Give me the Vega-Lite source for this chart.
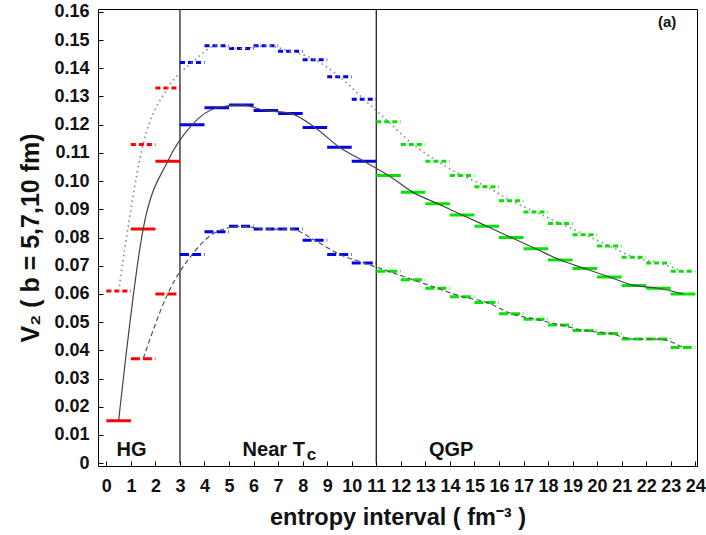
{
  "$schema": "https://vega.github.io/schema/vega-lite/v6.json",
  "width": 599,
  "height": 457,
  "autosize": {"type": "none"},
  "padding": {"left": 98, "top": 9, "right": 9, "bottom": 69},
  "config": {
    "font": "Liberation Sans",
    "view": {"stroke": "#000", "strokeWidth": 1},
    "axis": {
      "domain": false,
      "grid": false,
      "tickColor": "#000",
      "tickSize": -5,
      "labelFont": "Liberation Sans",
      "labelFontWeight": "bold",
      "labelFontSize": 18,
      "labelColor": "#111",
      "labelOverlap": false,
      "labelFlush": false,
      "titleFont": "Liberation Sans",
      "titleFontWeight": "bold",
      "titleColor": "#111"
    },
    "axisX": {"tickCount": 25, "labelPadding": 16, "titlePadding": 10, "titleFontSize": 23.5},
    "axisY": {
      "tickCount": 16,
      "labelPadding": 14,
      "titlePadding": 10,
      "titleFontSize": 25,
      "labelExpr": "datum.value == 0 ? '0' : format(datum.value, '.2f')"
    }
  },
  "datasets": {
    "v2": [
      {"b": "10", "lo": 0, "hi": 1, "ph": "HG", "v2": 0.061},
      {"b": "10", "lo": 1, "hi": 2, "ph": "HG", "v2": 0.113},
      {"b": "10", "lo": 2, "hi": 3, "ph": "HG", "v2": 0.133},
      {"b": "10", "lo": 3, "hi": 4, "ph": "Near Tc", "v2": 0.142},
      {"b": "10", "lo": 4, "hi": 5, "ph": "Near Tc", "v2": 0.148},
      {"b": "10", "lo": 5, "hi": 6, "ph": "Near Tc", "v2": 0.147},
      {"b": "10", "lo": 6, "hi": 7, "ph": "Near Tc", "v2": 0.148},
      {"b": "10", "lo": 7, "hi": 8, "ph": "Near Tc", "v2": 0.146},
      {"b": "10", "lo": 8, "hi": 9, "ph": "Near Tc", "v2": 0.143},
      {"b": "10", "lo": 9, "hi": 10, "ph": "Near Tc", "v2": 0.137},
      {"b": "10", "lo": 10, "hi": 11, "ph": "Near Tc", "v2": 0.129},
      {"b": "10", "lo": 11, "hi": 12, "ph": "QGP", "v2": 0.121},
      {"b": "10", "lo": 12, "hi": 13, "ph": "QGP", "v2": 0.113},
      {"b": "10", "lo": 13, "hi": 14, "ph": "QGP", "v2": 0.107},
      {"b": "10", "lo": 14, "hi": 15, "ph": "QGP", "v2": 0.102},
      {"b": "10", "lo": 15, "hi": 16, "ph": "QGP", "v2": 0.098},
      {"b": "10", "lo": 16, "hi": 17, "ph": "QGP", "v2": 0.093},
      {"b": "10", "lo": 17, "hi": 18, "ph": "QGP", "v2": 0.089},
      {"b": "10", "lo": 18, "hi": 19, "ph": "QGP", "v2": 0.085},
      {"b": "10", "lo": 19, "hi": 20, "ph": "QGP", "v2": 0.081},
      {"b": "10", "lo": 20, "hi": 21, "ph": "QGP", "v2": 0.077},
      {"b": "10", "lo": 21, "hi": 22, "ph": "QGP", "v2": 0.073},
      {"b": "10", "lo": 22, "hi": 23, "ph": "QGP", "v2": 0.071},
      {"b": "10", "lo": 23, "hi": 24, "ph": "QGP", "v2": 0.068},

      {"b": "7", "lo": 0, "hi": 1, "ph": "HG", "v2": 0.015},
      {"b": "7", "lo": 1, "hi": 2, "ph": "HG", "v2": 0.083},
      {"b": "7", "lo": 2, "hi": 3, "ph": "HG", "v2": 0.107},
      {"b": "7", "lo": 3, "hi": 4, "ph": "Near Tc", "v2": 0.120},
      {"b": "7", "lo": 4, "hi": 5, "ph": "Near Tc", "v2": 0.126},
      {"b": "7", "lo": 5, "hi": 6, "ph": "Near Tc", "v2": 0.127},
      {"b": "7", "lo": 6, "hi": 7, "ph": "Near Tc", "v2": 0.125},
      {"b": "7", "lo": 7, "hi": 8, "ph": "Near Tc", "v2": 0.124},
      {"b": "7", "lo": 8, "hi": 9, "ph": "Near Tc", "v2": 0.119},
      {"b": "7", "lo": 9, "hi": 10, "ph": "Near Tc", "v2": 0.112},
      {"b": "7", "lo": 10, "hi": 11, "ph": "Near Tc", "v2": 0.107},
      {"b": "7", "lo": 11, "hi": 12, "ph": "QGP", "v2": 0.102},
      {"b": "7", "lo": 12, "hi": 13, "ph": "QGP", "v2": 0.096},
      {"b": "7", "lo": 13, "hi": 14, "ph": "QGP", "v2": 0.092},
      {"b": "7", "lo": 14, "hi": 15, "ph": "QGP", "v2": 0.088},
      {"b": "7", "lo": 15, "hi": 16, "ph": "QGP", "v2": 0.084},
      {"b": "7", "lo": 16, "hi": 17, "ph": "QGP", "v2": 0.080},
      {"b": "7", "lo": 17, "hi": 18, "ph": "QGP", "v2": 0.076},
      {"b": "7", "lo": 18, "hi": 19, "ph": "QGP", "v2": 0.072},
      {"b": "7", "lo": 19, "hi": 20, "ph": "QGP", "v2": 0.069},
      {"b": "7", "lo": 20, "hi": 21, "ph": "QGP", "v2": 0.066},
      {"b": "7", "lo": 21, "hi": 22, "ph": "QGP", "v2": 0.063},
      {"b": "7", "lo": 22, "hi": 23, "ph": "QGP", "v2": 0.062},
      {"b": "7", "lo": 23, "hi": 24, "ph": "QGP", "v2": 0.060},

      {"b": "5", "lo": 1, "hi": 2, "ph": "HG", "v2": 0.037},
      {"b": "5", "lo": 2, "hi": 3, "ph": "HG", "v2": 0.060},
      {"b": "5", "lo": 3, "hi": 4, "ph": "Near Tc", "v2": 0.074},
      {"b": "5", "lo": 4, "hi": 5, "ph": "Near Tc", "v2": 0.082},
      {"b": "5", "lo": 5, "hi": 6, "ph": "Near Tc", "v2": 0.084},
      {"b": "5", "lo": 6, "hi": 7, "ph": "Near Tc", "v2": 0.083},
      {"b": "5", "lo": 7, "hi": 8, "ph": "Near Tc", "v2": 0.083},
      {"b": "5", "lo": 8, "hi": 9, "ph": "Near Tc", "v2": 0.079},
      {"b": "5", "lo": 9, "hi": 10, "ph": "Near Tc", "v2": 0.074},
      {"b": "5", "lo": 10, "hi": 11, "ph": "Near Tc", "v2": 0.071},
      {"b": "5", "lo": 11, "hi": 12, "ph": "QGP", "v2": 0.068},
      {"b": "5", "lo": 12, "hi": 13, "ph": "QGP", "v2": 0.065},
      {"b": "5", "lo": 13, "hi": 14, "ph": "QGP", "v2": 0.062},
      {"b": "5", "lo": 14, "hi": 15, "ph": "QGP", "v2": 0.059},
      {"b": "5", "lo": 15, "hi": 16, "ph": "QGP", "v2": 0.057},
      {"b": "5", "lo": 16, "hi": 17, "ph": "QGP", "v2": 0.053},
      {"b": "5", "lo": 17, "hi": 18, "ph": "QGP", "v2": 0.051},
      {"b": "5", "lo": 18, "hi": 19, "ph": "QGP", "v2": 0.049},
      {"b": "5", "lo": 19, "hi": 20, "ph": "QGP", "v2": 0.047},
      {"b": "5", "lo": 20, "hi": 21, "ph": "QGP", "v2": 0.046},
      {"b": "5", "lo": 21, "hi": 22, "ph": "QGP", "v2": 0.044},
      {"b": "5", "lo": 22, "hi": 23, "ph": "QGP", "v2": 0.044},
      {"b": "5", "lo": 23, "hi": 24, "ph": "QGP", "v2": 0.041}
    ],
    "bounds": [{"s": 3}, {"s": 11}],
    "one": [{}]
  },
  "layer": [
    {
      "data": {"name": "bounds"},
      "mark": {"type": "rule", "color": "#111", "strokeWidth": 1.2},
      "encoding": {
        "x": {
          "field": "s", "type": "quantitative",
          "title": "entropy interval ( fm⁻³ )",
          "scale": {"domain": [-0.34, 24.07], "nice": false, "zero": false}
        },
        "y": {
          "datum": 0, "type": "quantitative",
          "title": "V₂ ( b = 5,7,10 fm)",
          "scale": {"domain": [-0.001, 0.161], "nice": false, "zero": false}
        },
        "y2": {"datum": 0.161}
      }
    },
    {
      "data": {"name": "v2"},
      "mark": {"type": "rule", "strokeWidth": 3},
      "encoding": {
        "x": {"field": "lo", "type": "quantitative", "title": "entropy interval ( fm⁻³ )"},
        "x2": {"field": "hi"},
        "y": {"field": "v2", "type": "quantitative", "title": "V₂ ( b = 5,7,10 fm)"},
        "color": {
          "field": "ph", "type": "nominal", "legend": null,
          "scale": {"domain": ["HG", "Near Tc", "QGP"], "range": ["#ff0000", "#0000f0", "#00e600"]}
        },
        "strokeDash": {
          "field": "b", "type": "nominal", "legend": null,
          "scale": {"domain": ["10", "7", "5"], "range": [[5, 3], [1, 0], [9, 3]]}
        }
      }
    },
    {
      "data": {"name": "v2"},
      "transform": [
        {"filter": "datum.b == '10'"},
        {"calculate": "(datum.lo + datum.hi) / 2", "as": "mid"}
      ],
      "mark": {"type": "line", "interpolate": "monotone", "color": "#888", "strokeWidth": 1.6, "strokeDash": [1.5, 3.5]},
      "encoding": {
        "x": {"field": "mid", "type": "quantitative", "title": "entropy interval ( fm⁻³ )"},
        "y": {"field": "v2", "type": "quantitative", "title": "V₂ ( b = 5,7,10 fm)"}
      }
    },
    {
      "data": {"name": "v2"},
      "transform": [
        {"filter": "datum.b == '7'"},
        {"calculate": "(datum.lo + datum.hi) / 2", "as": "mid"}
      ],
      "mark": {"type": "line", "interpolate": "monotone", "color": "#444", "strokeWidth": 1.2},
      "encoding": {
        "x": {"field": "mid", "type": "quantitative", "title": "entropy interval ( fm⁻³ )"},
        "y": {"field": "v2", "type": "quantitative", "title": "V₂ ( b = 5,7,10 fm)"}
      }
    },
    {
      "data": {"name": "v2"},
      "transform": [
        {"filter": "datum.b == '5'"},
        {"calculate": "(datum.lo + datum.hi) / 2", "as": "mid"}
      ],
      "mark": {"type": "line", "interpolate": "monotone", "color": "#555", "strokeWidth": 1.2, "strokeDash": [5, 3]},
      "encoding": {
        "x": {"field": "mid", "type": "quantitative", "title": "entropy interval ( fm⁻³ )"},
        "y": {"field": "v2", "type": "quantitative", "title": "V₂ ( b = 5,7,10 fm)"}
      }
    },
    {
      "data": {"name": "one"},
      "mark": {"type": "text", "text": "HG", "font": "Liberation Sans", "fontWeight": "bold", "fontSize": 20, "color": "#111", "align": "center", "baseline": "alphabetic"},
      "encoding": {"x": {"datum": 1.03, "type": "quantitative"}, "y": {"datum": 0.0024, "type": "quantitative"}}
    },
    {
      "data": {"name": "one"},
      "mark": {"type": "text", "text": "Near T", "font": "Liberation Sans", "fontWeight": "bold", "fontSize": 20, "color": "#111", "align": "right", "baseline": "alphabetic"},
      "encoding": {"x": {"datum": 8.09, "type": "quantitative"}, "y": {"datum": 0.0024, "type": "quantitative"}}
    },
    {
      "data": {"name": "one"},
      "mark": {"type": "text", "text": "c", "font": "Liberation Sans", "fontWeight": "bold", "fontSize": 17, "color": "#111", "align": "left", "baseline": "alphabetic", "dx": 2, "dy": 4},
      "encoding": {"x": {"datum": 8.09, "type": "quantitative"}, "y": {"datum": 0.0024, "type": "quantitative"}}
    },
    {
      "data": {"name": "one"},
      "mark": {"type": "text", "text": "QGP", "font": "Liberation Sans", "fontWeight": "bold", "fontSize": 20, "color": "#111", "align": "center", "baseline": "alphabetic"},
      "encoding": {"x": {"datum": 14.05, "type": "quantitative"}, "y": {"datum": 0.0024, "type": "quantitative"}}
    },
    {
      "data": {"name": "one"},
      "mark": {"type": "text", "text": "(a)", "font": "Liberation Sans", "fontWeight": "bold", "fontSize": 15, "color": "#111", "align": "center", "baseline": "middle"},
      "encoding": {"x": {"datum": 22.85, "type": "quantitative"}, "y": {"datum": 0.1564, "type": "quantitative"}}
    }
  ]
}
